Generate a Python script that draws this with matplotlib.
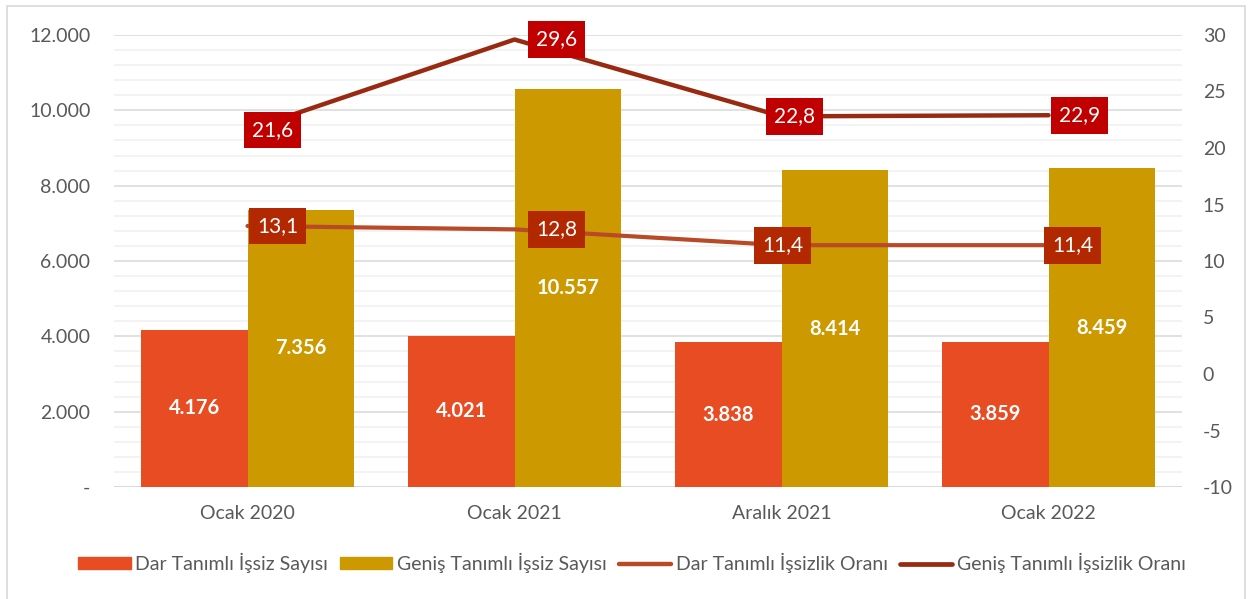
import matplotlib
matplotlib.use("Agg")
import matplotlib.pyplot as plt
from matplotlib.patches import Rectangle
from matplotlib.lines import Line2D
from matplotlib.ticker import MultipleLocator, FuncFormatter
import numpy as np

plt.rcParams['font.family'] = ['Lato', 'DejaVu Sans']
plt.rcParams['axes.unicode_minus'] = False

categories = ["Ocak 2020", "Ocak 2021", "Aralık 2021", "Ocak 2022"]
dar_sayi = [4176, 4021, 3838, 3859]
genis_sayi = [7356, 10557, 8414, 8459]
dar_oran = [13.1, 12.8, 11.4, 11.4]
genis_oran = [21.6, 29.6, 22.8, 22.9]
series_names = ["Dar Tanımlı İşsiz Sayısı", "Geniş Tanımlı İşsiz Sayısı",
                "Dar Tanımlı İşsizlik Oranı", "Geniş Tanımlı İşsizlik Oranı"]

# label nudges in pixels (x) to mimic the hand-placed Excel labels
dar_label_dx = [30, 42, 1, 24]
genis_label_dx = [25, 42, 13, 31]

c_dar_bar = "#E84C22"
c_genis_bar = "#CC9900"
c_dar_line = "#B84A28"
c_genis_line = "#992A12"
c_dar_box = "#B22800"
c_genis_box = "#C00000"
c_text = "#595959"


def thousands(v, pos=None):
    if v == 0:
        return "-"
    return "{:,.0f}".format(v).replace(",", ".")


fig = plt.figure(figsize=(12.49, 5.99), dpi=100)
ax = fig.add_axes([114 / 1249, 1 - 487 / 599, (1182 - 114) / 1249, (487 - 35) / 599])
ax2 = ax.twinx()

x = np.arange(len(categories))
w = 0.4
b1 = ax.bar(x - w / 2, dar_sayi, w, color=c_dar_bar, zorder=3)
b2 = ax.bar(x + w / 2, genis_sayi, w, color=c_genis_bar, zorder=3)
for bars, vals in ((b1, dar_sayi), (b2, genis_sayi)):
    for r, v in zip(bars, vals):
        ax.text(r.get_x() + r.get_width() / 2, v / 2, thousands(v), ha="center", va="center",
                color="white", fontsize=14.5, fontweight="bold", zorder=4)

ax.set_xlim(-0.5, len(categories) - 0.5)
ax.set_ylim(0, 12000)
ax.yaxis.set_major_locator(MultipleLocator(2000))
ax.yaxis.set_minor_locator(MultipleLocator(400))
ax.yaxis.set_major_formatter(FuncFormatter(thousands))
ax.grid(axis="y", which="major", color="#D9D9D9", lw=1.1, zorder=0)
ax.grid(axis="y", which="minor", color="#F0F0F0", lw=1.1, zorder=0)
ax.set_axisbelow(True)
ax.set_xticks(x)
ax.set_xticklabels(categories)
ax.tick_params(axis="x", length=0, pad=13, labelsize=14, labelcolor=c_text)
ax.tick_params(axis="y", which="both", length=0, pad=17, labelsize=14, labelcolor=c_text)
for s in ax.spines.values():
    s.set_visible(False)
ax.axhline(0, color="#D9D9D9", lw=1.3, zorder=2)

ax2.plot(x, dar_oran, color=c_dar_line, lw=3, solid_capstyle="round", zorder=3)
ax2.plot(x, genis_oran, color=c_genis_line, lw=3.2, solid_capstyle="round", zorder=3)
ax2.set_ylim(-10, 30)
ax2.yaxis.set_major_locator(MultipleLocator(5))
ax2.tick_params(axis="y", length=0, pad=15, labelsize=14, labelcolor=c_text)
for s in ax2.spines.values():
    s.set_visible(False)

for vals, dxs, box in ((dar_oran, dar_label_dx, c_dar_box), (genis_oran, genis_label_dx, c_genis_box)):
    for xi, v, dx in zip(x, vals, dxs):
        ax2.annotate("{:.1f}".format(v).replace(".", ","), (xi, v), xytext=(dx, 0),
                     textcoords="offset pixels", ha="center", va="center", color="white",
                     fontsize=15, zorder=5,
                     bbox=dict(boxstyle="square,pad=0.4", fc=box, ec="none"))

handles = [Rectangle((0, 0), 1, 1, color=c_dar_bar),
           Rectangle((0, 0), 1, 1, color=c_genis_bar),
           Line2D([0], [0], color=c_dar_line, lw=3.2, solid_capstyle="round"),
           Line2D([0], [0], color=c_genis_line, lw=3.4, solid_capstyle="round")]
fig.legend(handles, series_names, loc="center", bbox_to_anchor=(0.506, 1 - 563 / 599), ncol=4,
           frameon=False, fontsize=14, labelcolor=c_text, handlelength=2.7, handleheight=0.6,
           handletextpad=0.25, columnspacing=0.6)

fig.patches.append(Rectangle((7 / 1249, -0.02), (1245 - 7) / 1249, 1.02 - 6 / 599,
                             transform=fig.transFigure, fill=False, ec="#D9D9D9", lw=1.2))

fig.savefig("out.png", dpi=100)
